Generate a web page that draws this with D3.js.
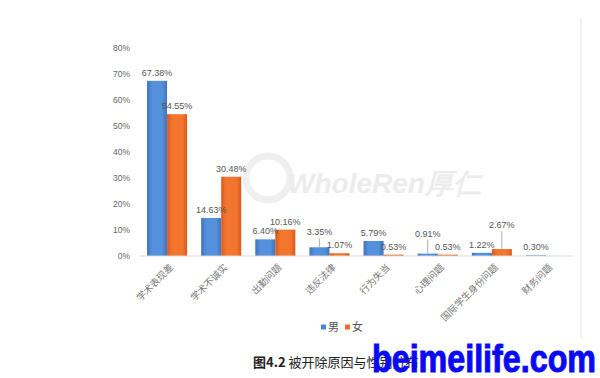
<!DOCTYPE html>
<html>
<head>
<meta charset="utf-8">
<script src="https://cdn.jsdelivr.net/npm/d3@7"></script>
<style>
  body { margin: 0; background: #fff; }
  svg { display: block; font-family: "Liberation Sans", Arial, sans-serif; }
</style>
</head>
<body>
<div id="chart"></div>
<script>
const categories = ["学术表现差", "学术不诚实", "出勤问题", "违反法律", "行为失当", "心理问题", "国际学生身份问题", "财务问题"];
const series = ["男", "女"];
const maleValues = [67.38, 14.63, 6.40, 3.35, 5.79, 0.91, 1.22, 0.30];
const femaleValues = [54.55, 30.48, 10.16, 1.07, 0.53, 0.53, 2.67, null];
const yTicks = [0, 10, 20, 30, 40, 50, 60, 70, 80];

// labels Excel had dragged up, with a leader line (px)
const labelLift = { "男": [0, 0, 0, 7, 0, 12, 0, 0], "女": [0, 0, 0, 0, 0, 0, 16, 0] };

const W = 600, H = 378;
const margin = { top: 48, left: 140, right: 27, bottom: 122 };
const colors = { "男": "#4a84d2", "女": "#ee6a27" };

const svg = d3.select("#chart").append("svg")
  .attr("width", W).attr("height", H);

// gradients to mimic the shaded Excel bars
const defs = svg.append("defs");
[["男", "#3f73bd", "#5590dd"], ["女", "#d95a1c", "#f3762f"]].forEach(([k, edge, mid], i) => {
  const g = defs.append("linearGradient").attr("id", "grad" + i)
    .attr("x1", "0%").attr("x2", "100%").attr("y1", "0%").attr("y2", "0%");
  g.append("stop").attr("offset", "0%").attr("stop-color", edge);
  g.append("stop").attr("offset", "25%").attr("stop-color", mid);
  g.append("stop").attr("offset", "75%").attr("stop-color", mid);
  g.append("stop").attr("offset", "100%").attr("stop-color", edge);
});

// right frame edge of the screenshot
svg.append("line").attr("x1", 581).attr("x2", 581).attr("y1", 18).attr("y2", 338)
  .attr("stroke", "#ececec").attr("stroke-width", 1.5);

// WholeRen watermark
const wm = svg.append("g").attr("opacity", 0.9);
wm.append("circle").attr("cx", 268).attr("cy", 178).attr("r", 22)
  .attr("fill", "none").attr("stroke", "#eeeeee").attr("stroke-width", 7);
wm.append("text").attr("x", 288).attr("y", 193)
  .attr("font-size", 28).attr("font-weight", "bold").attr("font-style", "italic")
  .attr("fill", "#ebebeb").text("WholeRen厚仁");

const x = d3.scaleBand().domain(categories)
  .range([margin.left, W - margin.right]).paddingInner(0.26).paddingOuter(0.13);
const xs = d3.scaleBand().domain(series).range([0, x.bandwidth()]);
const y = d3.scaleLinear().domain([0, 80]).range([H - margin.bottom, margin.top]);

// y axis labels only
const yAxis = svg.append("g").attr("transform", `translate(${margin.left - 4},0)`)
  .call(d3.axisLeft(y).tickValues(yTicks).tickSize(0).tickPadding(6).tickFormat(d => d + "%"));
yAxis.select(".domain").remove();
yAxis.selectAll("text").attr("font-size", 8.5).attr("fill", "#666")
  .attr("font-family", "'Liberation Sans', Arial, sans-serif");

const rows = categories.map((c, i) => ({ c, i, "男": maleValues[i], "女": femaleValues[i] }));

const groups = svg.append("g").selectAll("g").data(rows).join("g")
  .attr("transform", d => `translate(${x(d.c)},0)`);

groups.selectAll("rect")
  .data(d => series.filter(s => d[s] != null).map(s => ({ s, v: d[s], i: d.i })))
  .join("rect")
  .attr("x", d => xs(d.s))
  .attr("width", xs.bandwidth())
  .attr("y", d => y(d.v))
  .attr("height", d => y(0) - y(d.v))
  .attr("fill", d => "url(#grad" + series.indexOf(d.s) + ")");

// baseline
svg.append("line")
  .attr("x1", margin.left).attr("x2", W - margin.right)
  .attr("y1", y(0)).attr("y2", y(0))
  .attr("stroke", "#d9d9d9").attr("stroke-width", 1);

// data labels
const labels = groups.selectAll("g.lbl")
  .data(d => series.filter(s => d[s] != null).map(s => ({ s, v: d[s], i: d.i })))
  .join("g").attr("class", "lbl");

labels.append("text")
  .attr("x", d => xs(d.s) + xs.bandwidth() / 2)
  .attr("y", d => y(d.v) - 5 - labelLift[d.s][d.i])
  .attr("text-anchor", "middle")
  .attr("font-size", 9).attr("fill", "#555")
  .text(d => d.v.toFixed(2) + "%");

labels.filter(d => labelLift[d.s][d.i] > 0).append("line")
  .attr("x1", d => xs(d.s) + xs.bandwidth() / 2)
  .attr("x2", d => xs(d.s) + xs.bandwidth() / 2)
  .attr("y1", d => y(d.v) - labelLift[d.s][d.i] - 2)
  .attr("y2", d => y(d.v))
  .attr("stroke", "#999").attr("stroke-width", 0.8);

// category labels, rotated
svg.append("g").selectAll("text").data(categories).join("text")
  .attr("transform", d => `translate(${x(d) + x.bandwidth() / 2 + 7},${y(0) + 12}) rotate(-45)`)
  .attr("text-anchor", "end")
  .attr("font-family", "'Noto Sans CJK SC', sans-serif")
  .attr("font-size", 9.5).attr("fill", "#777")
  .text(d => d);

// legend
const legend = svg.append("g").attr("transform", "translate(321,327)");
series.forEach((s, i) => {
  const g = legend.append("g").attr("transform", `translate(${i * 24},0)`);
  g.append("rect").attr("x", 0).attr("y", -2.5).attr("width", 5).attr("height", 5).attr("fill", colors[s]);
  g.append("text").attr("x", 7).attr("y", 4)
    .attr("font-family", "'Noto Sans CJK SC', sans-serif")
    .attr("font-size", 11).attr("fill", "#555").text(s);
});

// caption
const cap = svg.append("text").attr("x", 253).attr("y", 367)
  .attr("font-family", "'Noto Sans CJK SC', sans-serif").attr("font-size", 13).attr("fill", "#222");
cap.append("tspan").attr("font-weight", "bold").text("图4.2");
cap.append("tspan").text(" 被开除原因与性别分布");

// site watermark over the caption
svg.append("text").attr("x", 372).attr("y", 372)
  .attr("font-family", "'Liberation Sans', Arial, sans-serif")
  .attr("font-size", 38).attr("font-weight", "bold")
  .attr("textLength", 224).attr("lengthAdjust", "spacingAndGlyphs")
  .attr("fill", "#0a0af2").attr("stroke", "#0a0af2").attr("stroke-width", 1)
  .text("beimeilife.com");
</script>
</body>
</html>
